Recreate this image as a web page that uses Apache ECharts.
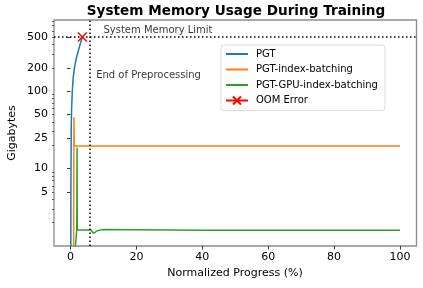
<!DOCTYPE html>
<html>
<head>
<meta charset="utf-8">
<script src="https://cdn.jsdelivr.net/npm/echarts@6/dist/echarts.min.js"></script>
<style>
  html, body { margin: 0; padding: 0; background: #fff; }
  #chart { width: 423px; height: 288px; }
</style>
</head>
<body>
<div id="chart"></div>
<script>
// ---- data (Gigabytes vs Normalized Progress %) ----
const pgtX = [0.1, 0.12, 0.15, 0.2, 0.25, 0.35, 0.55, 0.8, 1.2, 1.7, 2.3, 2.9, 3.6];
const pgtY = [0.8, 3, 8, 20, 40, 60, 100, 145, 200, 260, 320, 400, 500];
const idxX = [0.95, 1.05, 1.15, 1.3, 10, 20, 30, 40, 50, 60, 70, 80, 90, 100];
const idxY = [0.8, 46, 19.5, 19.5, 19.5, 19.5, 19.5, 19.5, 19.5, 19.5, 19.5, 19.5, 19.5, 19.5];
const gpuX = [1.3, 1.9, 2.0, 2.05, 2.2, 4.0, 6.2, 7.0, 7.4, 8.2, 10, 20, 40, 60, 80, 100];
const gpuY = [0.8, 1.6, 18.7, 1.62, 1.61, 1.61, 1.61, 1.46, 1.48, 1.58, 1.63, 1.62, 1.6, 1.6, 1.6, 1.6];
const oomX = [3.6];
const oomY = [500];
const memoryLimit = 500;
const preprocessEnd = 5.7;
const xTicks = [0, 20, 40, 60, 80, 100];
const yTicks = [5, 10, 25, 50, 100, 200, 500];
const yMinorTicks = [2, 3, 4, 5, 6, 7, 8, 9, 20, 30, 40, 50, 60, 70, 80, 90, 200, 300, 400, 500, 600, 700, 800];
const yRange = [1, 830];
const xRange = [-5, 105];

const lg = v => Math.log10(v);
const pairs = (xs, ys) => xs.map((x, i) => [x, lg(ys[i])]);
const FONT = 'DejaVu Sans';

const chart = echarts.init(document.getElementById('chart'), null, { renderer: 'canvas' });
const dotted = { color: '#000', width: 1.5, type: [1.5, 2.5] };
const noSym = { opacity: 0 };

chart.setOption({
  animation: false,
  textStyle: { fontFamily: FONT },
  grid: { left: 54, right: 6.5, top: 20, bottom: 42, show: true, borderColor: '#8c8c8c', borderWidth: 1.3, backgroundColor: 'transparent' },
  xAxis: {
    type: 'value', min: xRange[0], max: xRange[1],
    axisLine: { show: false },
    splitLine: { show: false },
    axisTick: { show: true, length: 3.5, lineStyle: { color: '#222', width: 0.9 }, customValues: xTicks },
    axisLabel: { customValues: xTicks, fontSize: 11, color: '#000', margin: 6, fontFamily: FONT }
  },
  yAxis: [{
    type: 'value', min: lg(yRange[0]), max: lg(yRange[1]),
    axisLine: { show: false },
    splitLine: { show: false },
    axisTick: { show: true, length: 3.5, lineStyle: { color: '#222', width: 0.9 }, customValues: yTicks.map(lg) },
    axisLabel: { customValues: yTicks.map(lg), fontSize: 11, color: '#000', margin: 6, fontFamily: FONT,
      formatter: v => String(Math.round(Math.pow(10, v))) }
  }, {
    type: 'value', min: lg(yRange[0]), max: lg(yRange[1]), position: 'left',
    axisLine: { show: false },
    splitLine: { show: false },
    axisTick: { show: true, length: 2, lineStyle: { color: '#222', width: 0.7 }, customValues: yMinorTicks.map(lg) },
    axisLabel: { show: false }
  }],
  legend: {
    orient: 'vertical', left: 221, top: 45,
    padding: [3, 7, 4, 4], itemGap: 3.5, itemWidth: 22, itemHeight: 10,
    borderColor: '#dcdcdc', borderWidth: 1, borderRadius: 3, backgroundColor: 'rgba(255,255,255,0.8)',
    selectedMode: false,
    textStyle: { fontSize: 10, color: '#000', fontFamily: FONT, lineHeight: 12, padding: [0, 0, 0, 3] },
    data: [
      { name: 'PGT', itemStyle: noSym },
      { name: 'PGT-index-batching', itemStyle: noSym },
      { name: 'PGT-GPU-index-batching', itemStyle: noSym },
      { name: 'OOM Error' }
    ]
  },
  graphic: [
    { type: 'text', x: 236, y: 11, style: { text: 'System Memory Usage During Training', font: 'bold 13.6px "DejaVu Sans"', fill: '#000', textAlign: 'center', textVerticalAlign: 'middle' } },
    { type: 'text', x: 235, y: 273, style: { text: 'Normalized Progress (%)', font: '11px "DejaVu Sans"', fill: '#000', textAlign: 'center', textVerticalAlign: 'middle' } },
    { type: 'text', x: 12, y: 133, rotation: Math.PI / 2, style: { text: 'Gigabytes', font: '11px "DejaVu Sans"', fill: '#000', textAlign: 'center', textVerticalAlign: 'middle' } }
  ],
  series: [
    {
      name: 'PGT', type: 'line', data: pairs(pgtX, pgtY), showSymbol: false, symbol: 'none',
      lineStyle: { color: '#1f77b4', width: 1.5 }, itemStyle: { color: '#1f77b4' }, z: 3,
      markLine: {
        silent: true, symbol: 'none', label: { show: false }, animation: false,
        lineStyle: dotted,
        data: [{ yAxis: lg(memoryLimit) }, { xAxis: preprocessEnd }]
      }
    },
    {
      name: 'PGT-index-batching', type: 'line', data: pairs(idxX, idxY), showSymbol: false, symbol: 'none',
      lineStyle: { color: '#ff7f0e', width: 1.5 }, itemStyle: { color: '#ff7f0e' }, z: 3
    },
    {
      name: 'PGT-GPU-index-batching', type: 'line', data: pairs(gpuX, gpuY), showSymbol: false, symbol: 'none',
      lineStyle: { color: '#2ca02c', width: 1.5 }, itemStyle: { color: '#2ca02c' }, z: 3
    },
    {
      name: 'OOM Error', type: 'line', data: pairs(oomX, oomY), showSymbol: true,
      symbol: 'path://M0,0L10,10M10,0L0,10', symbolSize: 9,
      lineStyle: { color: 'red', width: 1.5 },
      itemStyle: { color: 'rgba(0,0,0,0)', borderColor: 'red', borderWidth: 1.5 }, z: 5
    },
    {
      name: 'annotations', type: 'scatter', symbolSize: 0, silent: true, z: 4,
      data: [
        { value: [10, lg(617)], label: { formatter: 'System Memory Limit' } },
        { value: [7.8, lg(158)], label: { formatter: 'End of Preprocessing' } }
      ],
      label: { show: true, position: 'right', distance: 0, fontSize: 10, color: '#000', fontFamily: FONT }
    }
  ]
});
</script>
</body>
</html>
